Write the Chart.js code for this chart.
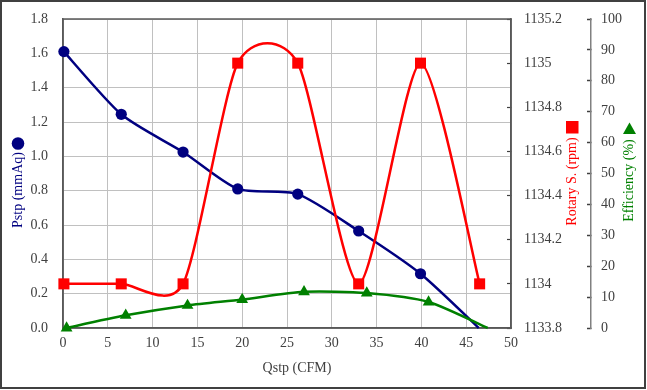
<!DOCTYPE html>
<html><head><meta charset="utf-8">
<script src="https://cdn.jsdelivr.net/npm/chart.js@4/dist/chart.umd.min.js"></script>
<style>html,body{margin:0;padding:0;background:#fff;} canvas{display:block;}</style>
</head><body>
<canvas id="c" width="647" height="390"></canvas>
<script>
// ---- data ----
const pstpQ   = [0.1, 6.5, 13.4, 19.5, 26.2, 33.0, 39.9, 46.4];
const pstpVal = [1.61, 1.245, 1.025, 0.81, 0.78, 0.565, 0.316, 0.0];
const rpmQ    = [0.1, 6.5, 13.4, 19.5, 26.2, 33.0, 39.9, 46.5];
const rpmVal  = [1134, 1134, 1134, 1135, 1135, 1134, 1135, 1134];
const effQ    = [0.4, 7.0, 13.9, 20.0, 26.9, 33.9, 40.8, 47.4];
const effVal  = [0, 4.1, 7.3, 9.2, 11.7, 11.3, 8.4, 0];

const xTickLabels    = ['0','5','10','15','20','25','30','35','40','45','50'];
const pstpTickLabels = ['0.0','0.2','0.4','0.6','0.8','1.0','1.2','1.4','1.6','1.8'];
const rpmTickLabels  = ['1133.8','1134','1134.2','1134.4','1134.6','1134.8','1135','1135.2'];
const effTickLabels  = ['0','10','20','30','40','50','60','70','80','90','100'];

const xTitle = 'Qstp (CFM)';
const pstpTitle = 'Pstp (mmAq)';
const rpmTitle = 'Rotary S. (rpm)';
const effTitle = 'Efficiency (%)';

// ---- styles ----
const NAVY = '#000080', RED = '#ff0000', GREEN = '#008000';
const TXT = '#404040', GRID = '#c0c0c0', AXIS = '#595959';
const FONT = {family: '"Liberation Serif", "Times New Roman", serif', size: 14};
const SMOOTH = 0.12; // Excel-like smoothing factor

function pts(xs, ys) { return xs.map((x, i) => ({x: x, y: ys[i]})); }
function lookup(labels) {
  return function (v) {
    for (const l of labels) if (Math.abs(parseFloat(l) - v) < 1e-6) return l;
    return '';
  };
}
function lastHidden(n, r) { const a = new Array(n).fill(r); a[n - 1] = 0; return a; }
function fitY(w) { return s => { s.width = w; s.paddingTop = 0; s.paddingBottom = 0; }; }

// Excel-style (uniform Catmull-Rom) smoothing of the library-placed points
const smoothPlugin = {
  id: 'smooth',
  beforeDatasetDraw(chart, args) {
    const meta = args.meta, line = meta.dataset;
    if (!line || !line.updateControlPoints) return;
    line.updateControlPoints(chart.chartArea, 'x');
    const p = meta.data, n = p.length;
    for (let i = 0; i < n; i++) {
      const prev = p[Math.max(i - 1, 0)], next = p[Math.min(i + 1, n - 1)];
      const dx = next.x - prev.x, dy = next.y - prev.y;
      p[i].cp1x = p[i].x - SMOOTH * dx; p[i].cp1y = p[i].y - SMOOTH * dy;
      p[i].cp2x = p[i].x + SMOOTH * dx; p[i].cp2y = p[i].y + SMOOTH * dy;
    }
  }
};

const framePlugin = {
  id: 'frame',
  beforeDatasetsDraw(chart) {
    const ctx = chart.ctx, a = chart.chartArea;
    ctx.save();
    ctx.strokeStyle = AXIS; ctx.lineWidth = 1.5;
    ctx.strokeRect(a.left, a.top, a.right - a.left, a.bottom - a.top);
    ctx.restore();
  },
  afterDraw(chart) {
    const ctx = chart.ctx;
    ctx.save();
    ctx.strokeStyle = '#404040'; ctx.lineWidth = 2;
    ctx.strokeRect(1, 1, chart.width - 3, chart.height - 3);
    ctx.font = FONT.size + 'px ' + FONT.family;
    ctx.textAlign = 'center'; ctx.textBaseline = 'middle';
    ctx.fillStyle = TXT;
    ctx.fillText(xTitle, 297, 368.5);
    function vtext(t, x, y, col) {
      ctx.save(); ctx.translate(x, y); ctx.rotate(-Math.PI / 2);
      ctx.fillStyle = col; ctx.fillText(t, 0, 0); ctx.restore();
    }
    vtext(pstpTitle, 18, 190, NAVY);
    ctx.fillStyle = NAVY;
    ctx.beginPath(); ctx.arc(18, 143.5, 6.3, 0, Math.PI * 2); ctx.fill();
    vtext(rpmTitle, 572.5, 181.5, RED);
    ctx.fillStyle = RED;
    ctx.fillRect(566, 121, 12.5, 12.5);
    vtext(effTitle, 629.5, 180.5, GREEN);
    ctx.fillStyle = GREEN;
    ctx.beginPath(); ctx.moveTo(629.5, 122.5); ctx.lineTo(636, 134); ctx.lineTo(623, 134); ctx.closePath(); ctx.fill();
    ctx.restore();
  }
};

new Chart(document.getElementById('c'), {
  type: 'scatter',
  data: {
    datasets: [
      {
        label: 'Pstp', data: pts(pstpQ, pstpVal), yAxisID: 'yP', order: 3,
        showLine: true, borderColor: NAVY, backgroundColor: NAVY, borderWidth: 2.5,
        pointStyle: 'circle', pointRadius: lastHidden(pstpQ.length, 5.6),
        pointBorderWidth: 0, tension: 0.4, clip: false
      },
      {
        label: 'Rotary', data: pts(rpmQ, rpmVal), yAxisID: 'yR', order: 2,
        showLine: true, borderColor: RED, backgroundColor: RED, borderWidth: 2.5,
        pointStyle: 'rect', pointRadius: 7.8, pointBorderWidth: 0, tension: 0.4, clip: false
      },
      {
        label: 'Eff', data: pts(effQ, effVal), yAxisID: 'yE', order: 1,
        showLine: true, borderColor: GREEN, backgroundColor: GREEN, borderWidth: 2.5,
        pointStyle: 'triangle', pointRadius: lastHidden(effQ.length, 6.8),
        pointBorderWidth: 0, tension: 0.4, clip: false
      }
    ]
  },
  options: {
    responsive: false, animation: false,
    layout: {padding: {left: 0, right: 0, top: 19, bottom: 0}},
    plugins: {legend: {display: false}, tooltip: {enabled: false}},
    scales: {
      x: {
        type: 'linear', position: 'bottom', min: 0, max: 50,
        afterFit: s => { s.height = 62; s.paddingLeft = 0; s.paddingRight = 0; },
        ticks: {stepSize: 5, autoSkip: false, maxRotation: 0, padding: 7, color: TXT, font: FONT,
                callback: lookup(xTickLabels)},
        grid: {color: GRID, lineWidth: 1, drawTicks: false},
        border: {color: AXIS, width: 1.5}
      },
      yP: {
        type: 'linear', position: 'left', min: 0, max: 1.8,
        afterFit: fitY(63),
        ticks: {stepSize: 0.2, autoSkip: false, padding: 15, color: TXT, font: FONT,
                callback: lookup(pstpTickLabels)},
        grid: {color: GRID, lineWidth: 1, drawTicks: false},
        border: {color: AXIS, width: 1.5}
      },
      yR: {
        type: 'linear', position: 'right', min: 1133.8, max: 1135.2, weight: 0,
        afterFit: fitY(80),
        ticks: {stepSize: 0.2, autoSkip: false, padding: 17, color: TXT, font: FONT,
                callback: lookup(rpmTickLabels)},
        grid: {drawOnChartArea: false, drawTicks: true, tickLength: -4, tickColor: '#404040', tickWidth: 1.2},
        border: {color: AXIS, width: 1.5}
      },
      yE: {
        type: 'linear', position: 'right', min: 0, max: 100, weight: 1,
        afterFit: fitY(56),
        ticks: {stepSize: 10, autoSkip: false, padding: 14, color: TXT, font: FONT,
                callback: lookup(effTickLabels)},
        grid: {drawOnChartArea: false, drawTicks: true, tickLength: -4, tickColor: '#404040', tickWidth: 1.5},
        border: {color: '#808080', width: 1.5}
      }
    }
  },
  plugins: [smoothPlugin, framePlugin]
});
</script>
</body></html>
